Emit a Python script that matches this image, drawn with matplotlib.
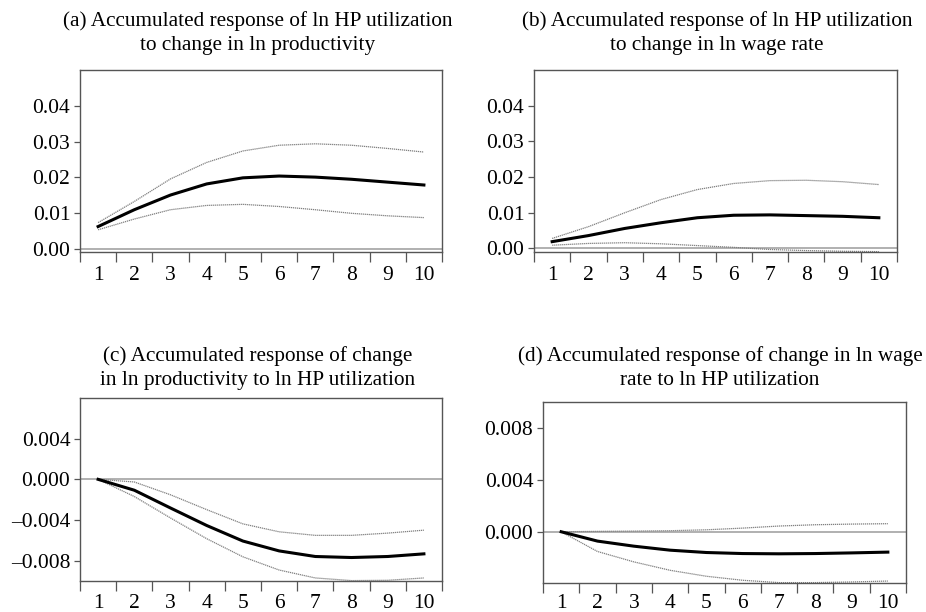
import matplotlib
matplotlib.use("Agg")
import matplotlib.pyplot as plt
import numpy as np

plt.rcParams['font.family'] = ['Liberation Serif', 'DejaVu Serif']
plt.rcParams['axes.unicode_minus'] = True

periods = np.arange(1, 11)

# (a) ln HP utilization <- change in ln productivity
a_resp = [0.0063, 0.0110, 0.0151, 0.0182, 0.0199, 0.0204, 0.0201, 0.0195, 0.0187, 0.0179]
a_upper = [0.0074, 0.0133, 0.0196, 0.0242, 0.0274, 0.0290, 0.0294, 0.0290, 0.0281, 0.0271]
a_lower = [0.0054, 0.0084, 0.0110, 0.0122, 0.0125, 0.0119, 0.0110, 0.0100, 0.0093, 0.0088]

# (b) ln HP utilization <- change in ln wage rate
b_resp = [0.0019, 0.0036, 0.0056, 0.0072, 0.0086, 0.0093, 0.0094, 0.0092, 0.0090, 0.0086]
b_upper = [0.0028, 0.0061, 0.0100, 0.0137, 0.0165, 0.0182, 0.0190, 0.0191, 0.0187, 0.0179]
b_lower = [0.0009, 0.0014, 0.0016, 0.0013, 0.0008, 0.0003, -0.0003, -0.0006, -0.0008, -0.0009]

# (c) change in ln productivity <- ln HP utilization
c_resp = [0.0, -0.00107, -0.00282, -0.00454, -0.00607, -0.00704, -0.00759, -0.00769, -0.00759, -0.00733]
c_upper = [0.0, -0.00026, -0.00152, -0.00298, -0.00438, -0.00516, -0.00551, -0.00551, -0.00529, -0.00500]
c_lower = [0.0, -0.00169, -0.0038, -0.00584, -0.00762, -0.00892, -0.0097, -0.00996, -0.00993, -0.0097]

# (d) change in ln wage rate <- ln HP utilization
d_resp = [0.0, -0.00072, -0.00111, -0.00142, -0.0016, -0.00168, -0.0017, -0.00168, -0.00163, -0.00157]
d_upper = [0.0, 0.00003, 0.00005, 0.00008, 0.00015, 0.00028, 0.00044, 0.00054, 0.00059, 0.00062]
d_lower = [0.0, -0.00152, -0.00232, -0.00297, -0.00343, -0.00374, -0.00392, -0.00392, -0.00387, -0.0038]

titles = [
    "(a) Accumulated response of ln HP utilization\nto change in ln productivity",
    "(b) Accumulated response of ln HP utilization\nto change in ln wage rate",
    "(c) Accumulated response of change\nin ln productivity to ln HP utilization",
    "(d) Accumulated response of change in ln wage\nrate to ln HP utilization",
]

W, H = 926, 612
fig = plt.figure(figsize=(W / 100, H / 100), dpi=100)

# pixel boxes (left, top, right, bottom)
boxes = [(80, 70, 442, 252), (534, 70, 897, 252), (80, 398, 442, 581), (543, 402, 906, 583)]
ylims = [(-0.0008, 0.05), (-0.001, 0.05), (-0.010, 0.008), (-0.00395, 0.010)]
yticks = [[0.0, 0.01, 0.02, 0.03, 0.04], [0.0, 0.01, 0.02, 0.03, 0.04],
          [-0.008, -0.004, 0.0, 0.004], [0.0, 0.004, 0.008]]
yfmt = ["{:.2f}", "{:.2f}", "{:.3f}", "{:.3f}"]
xpads = [10, 10, 9.2, 8.2]
title_pads = [14.5, 14.5, 9.3, 12]
title_x = [0.49, 0.504, 0.49, 0.488]
series = [(a_resp, a_upper, a_lower), (b_resp, b_upper, b_lower),
          (c_resp, c_upper, c_lower), (d_resp, d_upper, d_lower)]

spine_col = '#555555'
band_col = '#808080'
for i, (l, t, r, b) in enumerate(boxes):
    ax = fig.add_axes([l / W, (H - b) / H, (r - l) / W, (b - t) / H])
    resp, up, lo = series[i]
    ax.axhline(0, color='#aaaaaa', lw=1.3, zorder=1)
    ax.plot(periods, up, color=band_col, lw=0.9, ls=(0, (1, 0.6)), zorder=2)
    ax.plot(periods, lo, color=band_col, lw=0.9, ls=(0, (1, 0.6)), zorder=2)
    ax.plot(periods, resp, color='black', lw=2.2, zorder=3)
    ax.set_xlim(0.5, 10.5)
    ax.set_ylim(*ylims[i])
    ax.set_xticks(np.arange(0.5, 11, 1))
    ax.set_xticklabels([])
    ax.set_xticks(periods, minor=True)
    ax.set_xticklabels([str(p) for p in periods], minor=True)
    ax.tick_params(axis='x', which='major', direction='out', length=7, width=0.9, color=spine_col)
    ax.tick_params(axis='x', which='minor', length=0, pad=xpads[i], labelsize=15.5)
    ax.set_yticks(yticks[i])
    ax.set_yticklabels([yfmt[i].format(v).replace('-', '\u2013') for v in yticks[i]])
    ax.tick_params(axis='y', direction='out', length=4, width=0.9, color=spine_col,
                   pad=3, labelsize=15.5)
    for s in ax.spines.values():
        s.set_color(spine_col)
        s.set_linewidth(1.0)
    ax.set_title(titles[i], fontsize=15.3, pad=title_pads[i], linespacing=1.38, x=title_x[i])

fig.savefig("out.png", dpi=100)
